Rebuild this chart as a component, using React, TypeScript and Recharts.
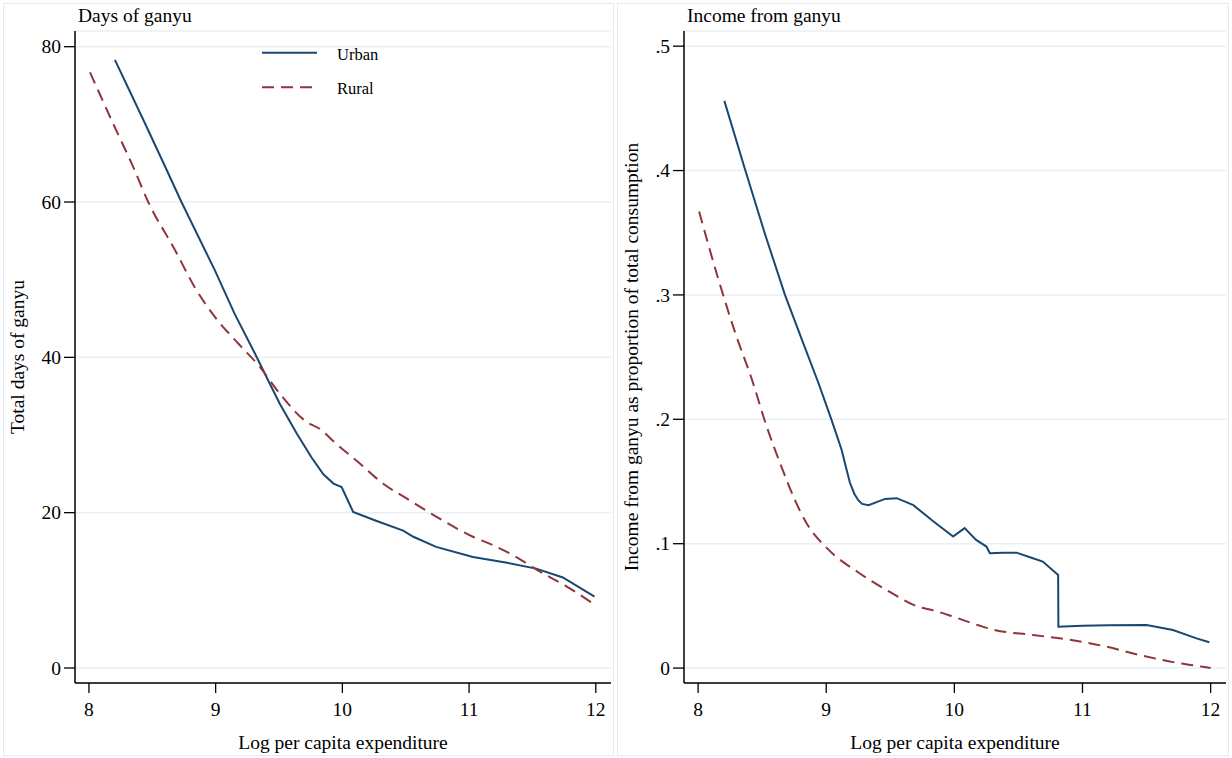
import React from 'react';
import { LineChart, Line, XAxis, YAxis, CartesianGrid } from 'recharts';

// ---------- data ----------
const xTicks = [8, 9, 10, 11, 12];
const daysTicks = [0, 20, 40, 60, 80];
const incomeTicks = [0, 0.1, 0.2, 0.3, 0.4, 0.5];

const urbanDaysX = [8.205, 8.44, 8.6, 8.73, 8.994, 9.15, 9.31, 9.4, 9.507, 9.64, 9.757, 9.85, 9.93, 9.994, 10.085, 10.26, 10.48, 10.56, 10.74, 11.03, 11.3, 11.53, 11.74, 11.99];
const urbanDaysY = [78.3, 70.2, 64.6, 60.0, 51.2, 45.6, 40.5, 37.5, 34.0, 30.2, 27.1, 24.95, 23.75, 23.3, 20.1, 19.0, 17.7, 16.9, 15.6, 14.3, 13.55, 12.8, 11.66, 9.2];

const ruralDaysX = [8.008, 8.205, 8.35, 8.468, 8.68, 8.836, 8.994, 9.18, 9.35, 9.507, 9.717, 9.82, 9.95, 10.14, 10.32, 10.51, 10.74, 11.03, 11.19, 11.35, 11.53, 11.82, 11.97];
const ruralDaysY = [76.7, 69.6, 64.5, 60.0, 53.8, 49.0, 45.2, 41.75, 38.75, 35.3, 31.7, 30.8, 28.9, 26.3, 23.75, 21.8, 19.5, 16.9, 15.8, 14.5, 12.7, 10.0, 8.4];

const urbanIncomeX = [8.205, 8.366, 8.522, 8.678, 8.81, 8.94, 9.04, 9.12, 9.15, 9.185, 9.22, 9.25, 9.28, 9.33, 9.46, 9.55, 9.68, 9.835, 9.99, 10.08, 10.17, 10.25, 10.277, 10.38, 10.485, 10.59, 10.69, 10.81, 10.812, 11.0, 11.2, 11.5, 11.706, 11.89, 11.99];
const urbanIncomeY = [0.456, 0.401, 0.349, 0.3, 0.264, 0.229, 0.2, 0.1755, 0.163, 0.149, 0.14, 0.135, 0.132, 0.131, 0.136, 0.1366, 0.131, 0.118, 0.1057, 0.1125, 0.103, 0.0977, 0.0923, 0.0928, 0.0928, 0.0891, 0.0856, 0.0749, 0.0333, 0.034, 0.0345, 0.0346, 0.0306, 0.0239, 0.0207];

const ruralIncomeX = [8.008, 8.16, 8.29, 8.42, 8.536, 8.65, 8.756, 8.855, 9.0, 9.263, 9.5, 9.7, 9.85, 10.0, 10.2, 10.3, 10.614, 10.875, 11.187, 11.446, 11.733, 11.94, 12.0];
const ruralIncomeY = [0.367, 0.312, 0.2695, 0.232, 0.194, 0.162, 0.135, 0.115, 0.097, 0.076, 0.061, 0.05, 0.046, 0.041, 0.034, 0.031, 0.0266, 0.0231, 0.0172, 0.0105, 0.0043, 0.001, 0.0];

const seriesNames = ['Urban', 'Rural'];

// ---------- helpers ----------
const zip = (xs: number[], ys: number[]) => xs.map((x, i) => ({ x, y: ys[i] }));
const urbanDays = zip(urbanDaysX, urbanDaysY);
const ruralDays = zip(ruralDaysX, ruralDaysY);
const urbanIncome = zip(urbanIncomeX, urbanIncomeY);
const ruralIncome = zip(ruralIncomeX, ruralIncomeY);

const FONT = "'Liberation Serif', 'Times New Roman', serif";
const FS = 19.5;
const BLUE = '#1a476f';
const RED = '#90353b';
const DASH = '12 7';
const GRID = '#e8eff2';

const incomeFmt = (v: number) => (v === 0 ? '0' : String(v).replace(/^0/, ''));

const XTick = (props: any) => {
  const { x, y, payload } = props;
  return (
    <text x={x} y={y} dy="0.71em" textAnchor="middle" fontFamily={FONT} fontSize={FS} fill="#000">
      {String(payload.value)}
    </text>
  );
};

const makeYTick = (fmt: (v: number) => string) => (props: any) => {
  const { x, y, payload } = props;
  return (
    <text x={x} y={y} dy="0.34em" textAnchor="end" fontFamily={FONT} fontSize={FS} fill="#000">
      {fmt(payload.value)}
    </text>
  );
};
const DaysTick = makeYTick((v) => String(v));
const IncomeTick = makeYTick(incomeFmt);

const axisLineStyle = { stroke: '#000', strokeWidth: 1.5 };
const tickLineStyle = { stroke: '#000', strokeWidth: 1.3 };

export default function App() {
  return (
    <div style={{ position: 'absolute', left: 0, top: 0, width: 1232, height: 758, background: '#fff', overflow: 'hidden' }}>
      <div style={{ position: 'absolute', left: 3, top: 3, width: 611, height: 753, border: '1px solid #e3ebee', boxSizing: 'border-box' }} />
      <div style={{ position: 'absolute', left: 617, top: 3, width: 612, height: 753, border: '1px solid #e3ebee', boxSizing: 'border-box' }} />

      <div style={{ position: 'absolute', left: 0, top: 0 }}>
        <LineChart width={616} height={758} margin={{ top: 31, right: 5, bottom: 35, left: 15 }}>
          <CartesianGrid horizontal vertical={false} stroke={GRID} strokeWidth={1.5} />
          <XAxis dataKey="x" type="number" domain={[7.89, 12.12]} ticks={xTicks} allowDataOverflow height={40}
            tick={<XTick />} tickSize={10} tickMargin={9} axisLine={axisLineStyle} tickLine={tickLineStyle} />
          <YAxis type="number" domain={[-1.93, 82.02]} ticks={daysTicks} allowDataOverflow width={60}
            tick={<DaysTick />} tickSize={11} tickMargin={3} axisLine={axisLineStyle} tickLine={tickLineStyle} />
          <Line data={urbanDays} dataKey="y" name={seriesNames[0]} type="linear" stroke={BLUE} strokeWidth={2} dot={false} activeDot={false} isAnimationActive={false} />
          <Line data={ruralDays} dataKey="y" name={seriesNames[1]} type="monotone" stroke={RED} strokeWidth={2} strokeDasharray={DASH} dot={false} activeDot={false} isAnimationActive={false} />
        </LineChart>
      </div>

      <div style={{ position: 'absolute', left: 616, top: 0 }}>
        <LineChart width={616} height={758} margin={{ top: 31, right: 6, bottom: 35, left: 8 }}>
          <CartesianGrid horizontal vertical={false} stroke={GRID} strokeWidth={1.5} />
          <XAxis dataKey="x" type="number" domain={[7.89, 12.12]} ticks={xTicks} allowDataOverflow height={40}
            tick={<XTick />} tickSize={10} tickMargin={9} axisLine={axisLineStyle} tickLine={tickLineStyle} />
          <YAxis type="number" domain={[-0.012, 0.5122]} ticks={incomeTicks} allowDataOverflow width={60}
            tick={<IncomeTick />} tickSize={11} tickMargin={3} axisLine={axisLineStyle} tickLine={tickLineStyle} />
          <Line data={urbanIncome} dataKey="y" name={seriesNames[0]} type="linear" stroke={BLUE} strokeWidth={2} dot={false} activeDot={false} isAnimationActive={false} />
          <Line data={ruralIncome} dataKey="y" name={seriesNames[1]} type="monotone" stroke={RED} strokeWidth={2} strokeDasharray={DASH} dot={false} activeDot={false} isAnimationActive={false} />
        </LineChart>
      </div>

      <svg width={1232} height={758} style={{ position: 'absolute', left: 0, top: 0, pointerEvents: 'none' }}>
        <g fontFamily={FONT} fontSize={FS} fill="#000">
          <text x={78} y={21.5}>Days of ganyu</text>
          <text x={687} y={21.5}>Income from ganyu</text>
          <text x={343} y={749} textAnchor="middle">Log per capita expenditure</text>
          <text x={955} y={749} textAnchor="middle">Log per capita expenditure</text>
          <text transform="translate(24,357) rotate(-90)" textAnchor="middle">Total days of ganyu</text>
          <text transform="translate(638,357) rotate(-90)" textAnchor="middle">Income from ganyu as proportion of total consumption</text>
        </g>
        <g>
          <line x1={262} x2={317} y1={52.7} y2={52.7} stroke={BLUE} strokeWidth={2} />
          <text x={337} y={59.5} fontFamily={FONT} fontSize={FS - 3} fill="#000">{seriesNames[0]}</text>
          <line x1={262} x2={317} y1={87.3} y2={87.3} stroke={RED} strokeWidth={2} strokeDasharray={DASH} />
          <text x={337} y={94} fontFamily={FONT} fontSize={FS - 3} fill="#000">{seriesNames[1]}</text>
        </g>
      </svg>
    </div>
  );
}
